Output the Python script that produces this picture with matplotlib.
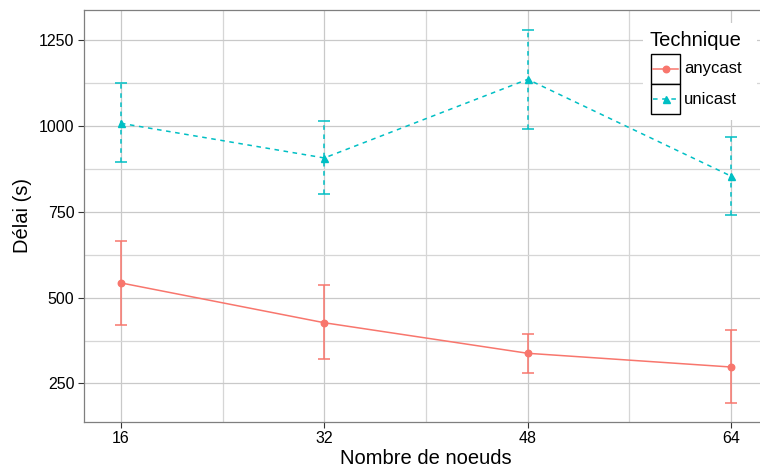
import matplotlib
matplotlib.use('Agg')
import matplotlib.pyplot as plt
from matplotlib.patches import Rectangle
from matplotlib.lines import Line2D
import numpy as np

# Data
nodes = [16, 32, 48, 64]
anycast_mean = [543, 427, 338, 298]
anycast_low = [420, 320, 280, 192]
anycast_high = [665, 536, 394, 405]
unicast_mean = [1008, 907, 1136, 854]
unicast_low = [896, 802, 991, 740]
unicast_high = [1124, 1014, 1281, 967]

techniques = ['anycast', 'unicast']
colors = {'anycast': '#F8766D', 'unicast': '#00BFC4'}

plt.rcParams['font.family'] = ['Liberation Sans', 'DejaVu Sans']

W, H = 760, 468
fig = plt.figure(figsize=(W / 100, H / 100), dpi=100)
ax = fig.add_axes([84 / W, (H - 421.6) / H, 684 / W, 411.6 / H])


def px(x, y):
    # pixel coordinates (top-left origin) -> figure fraction
    return x / W, 1 - y / H


series = {
    'anycast': (anycast_mean, anycast_low, anycast_high, 'o', '-', 6.5),
    'unicast': (unicast_mean, unicast_low, unicast_high, '^', (0, (3, 3)), 7),
}

for name in techniques:
    mean, low, high, marker, ls, ms = series[name]
    mean = np.array(mean)
    err = [mean - np.array(low), np.array(high) - mean]
    eb = ax.errorbar(nodes, mean, yerr=err, color=colors[name], linestyle=ls,
                     linewidth=1.1, marker=marker, markersize=ms * 0.72,
                     capsize=4, elinewidth=1.1, capthick=1.1, zorder=3)
    eb[2][0].set_linestyle(ls)

ax.set_xlim(13.1, 66.9)
ax.set_ylim(139, 1338)
ax.set_xticks(nodes)
ax.set_yticks([250, 500, 750, 1000, 1250])
ax.set_xticks([24, 40, 56], minor=True)
ax.set_yticks([375, 625, 875, 1125], minor=True)
ax.grid(True, which='major', color='#c9c9c9', linewidth=0.9)
ax.grid(True, which='minor', color='#d6d6d6', linewidth=0.9)
ax.set_axisbelow(True)
ax.tick_params(which='major', direction='out', length=4, width=0.8,
               color='#333333', labelsize=11.5, labelcolor='black', pad=3)
ax.tick_params(which='minor', length=0)
for s in ax.spines.values():
    s.set_color('#7f7f7f')
    s.set_linewidth(0.9)

ax.set_xlabel('Nombre de noeuds', fontsize=14.5, labelpad=2)
ax.set_ylabel('Délai (s)', fontsize=14.5, labelpad=5)

# legend, drawn by hand to get the boxed keys
fig.patches.append(Rectangle(px(643, 120), 114 / W, 97 / H, transform=fig.transFigure,
                             facecolor='white', edgecolor='none', zorder=5))
x0, y0 = px(650, 40)
fig.text(x0, y0, 'Technique', fontsize=14.5, ha='left', va='center', zorder=6)
for i, name in enumerate(techniques):
    mean, low, high, marker, ls, ms = series[name]
    top = 54 + i * 30
    fig.patches.append(Rectangle(px(651, top + 30), 29 / W, 30 / H, transform=fig.transFigure,
                                 facecolor='white', edgecolor='black', linewidth=1.0, zorder=6))
    yc = top + 15
    fig.lines.append(Line2D([653 / W, 678 / W], [1 - yc / H] * 2, transform=fig.transFigure,
                            color=colors[name], linestyle=ls, linewidth=1.1, zorder=7))
    fig.lines.append(Line2D([665.5 / W], [1 - yc / H], transform=fig.transFigure,
                            color=colors[name], marker=marker, markersize=ms * 0.72,
                            linestyle='none', zorder=7))
    lx, ly = px(684, yc)
    fig.text(lx, ly, name, fontsize=12, ha='left', va='center', zorder=7)

fig.savefig('out.png', dpi=100)
